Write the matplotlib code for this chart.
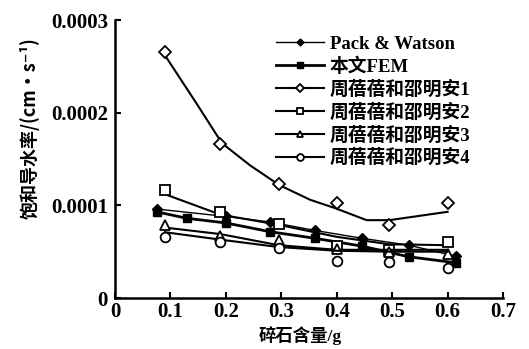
import matplotlib
matplotlib.use("Agg")
import matplotlib.pyplot as plt

# gravel content (g) and saturated hydraulic conductivity (cm/s)
pw_x = [0.075, 0.2, 0.28, 0.36, 0.445, 0.53, 0.615]
pw_y = [0.000096, 0.000088, 0.000082, 0.000073, 0.0000645, 0.000057, 0.000045]

fem_x = [0.075, 0.13, 0.2, 0.28, 0.36, 0.445, 0.53, 0.615]
fem_y = [0.000093, 0.000086, 0.000081, 0.0000715, 0.0000645, 0.000056, 0.0000445, 0.000038]

zhou_x = [0.09, 0.19, 0.295, 0.4, 0.495, 0.6]
zhou1_y = [0.000266, 0.000166, 0.000123, 0.000102, 0.000079, 0.000103]
zhou2_y = [0.000117, 0.000093, 0.00008, 0.000056, 0.000052, 0.00006]
zhou3_y = [0.000079, 0.000067, 0.000063, 0.000053, 0.00005, 0.000048]
zhou4_y = [0.000066, 0.00006, 0.0000535, 0.00004, 0.000039, 0.000032]

# trend curves drawn through the Zhou data
zhou1_fit_x = [0.09, 0.147, 0.193, 0.244, 0.296, 0.352, 0.397, 0.454, 0.495, 0.6]
zhou1_fit_y = [0.000262, 0.00021, 0.000167, 0.000143, 0.000122, 0.000106, 0.000097, 0.000084, 0.000084, 0.000093]
zhou2_fit_y = [0.000112, 0.00009, 0.000079, 0.000066, 0.000058, 0.000057]
zhou3_fit_y = [0.000076, 0.000069, 0.000057, 0.000052, 0.000052, 0.000052]
zhou4_fit_y = [0.000071, 0.000063, 0.000055, 0.000051, 0.00005, 0.00005]

labels = ["Pack & Watson", "本文FEM", "周蓓蓓和邵明安1", "周蓓蓓和邵明安2",
          "周蓓蓓和邵明安3", "周蓓蓓和邵明安4"]
x_ticks = [0, 0.1, 0.2, 0.3, 0.4, 0.5, 0.6, 0.7]
x_tick_labels = ["0", "0.1", "0.2", "0.3", "0.4", "0.5", "0.6", "0.7"]
y_ticks = [0, 0.0001, 0.0002, 0.0003]
y_tick_labels = ["0", "0.0001", "0.0002", "0.0003"]

serif_cjk = ["Liberation Serif", "Noto Sans CJK SC", "DejaVu Sans"]
plt.rcParams["font.family"] = serif_cjk
plt.rcParams["font.weight"] = "bold"

fig = plt.figure(figsize=(5.29, 3.49), dpi=100)
ax = fig.add_axes([115 / 529, 1 - 298 / 349, 388 / 529, 278 / 349])

k = "black"
ax.plot(pw_x, pw_y, color=k, lw=1.0, marker="D", ms=5, mfc=k, label=labels[0])
ax.plot(fem_x, fem_y, color=k, lw=2.0, marker="s", ms=6, mfc=k, label=labels[1])

open_series = [
    (zhou1_fit_x, zhou1_fit_y, zhou1_y, "D", 6, labels[2]),
    (zhou_x, zhou2_fit_y, zhou2_y, "s", 7, labels[3]),
    (zhou_x, zhou3_fit_y, zhou3_y, "^", 7, labels[4]),
    (zhou_x, zhou4_fit_y, zhou4_y, "o", 7, labels[5]),
]
for fit_x, fit_y, pts_y, mk, ms, lab in open_series:
    ax.plot(fit_x, fit_y, color=k, lw=1.5)
    ax.plot(zhou_x, pts_y, ls="none", marker=mk, ms=ms, mfc="white", mec=k, mew=1.3)
    # legend proxy
    ax.plot([], [], color=k, lw=1.5, marker=mk, ms=ms, mfc="white", mec=k, mew=1.3, label=lab)

ax.set_xlim(0, 0.7)
ax.set_ylim(0, 0.0003)
ax.set_xticks(x_ticks)
ax.set_xticklabels(x_tick_labels)
ax.set_yticks(y_ticks)
ax.set_yticklabels(y_tick_labels)
ax.spines["top"].set_visible(False)
ax.spines["right"].set_visible(False)
ax.spines["left"].set_linewidth(1.8)
ax.spines["bottom"].set_linewidth(1.8)
ax.tick_params(direction="in", length=4, width=1.5, labelsize=15)
ax.tick_params(axis="x", pad=3)
ax.tick_params(axis="y", pad=5)
for t in ax.get_xticklabels() + ax.get_yticklabels():
    t.set_fontweight("bold")

leg = ax.legend(loc="upper left", bbox_to_anchor=(0.385, 0.985), frameon=False,
                fontsize=13.5, handlelength=2.6, handletextpad=0.3,
                labelspacing=0.25, markerscale=0.7, borderaxespad=0.2)
for t in leg.get_texts():
    t.set_fontweight("bold")

fig.text(300 / 529, 1 - 336 / 349, "碎石含量/g", ha="center", va="center",
         fontsize=12.5, fontweight="bold")
fig.text(30 / 529, 1 - 128 / 349, "饱和导水率/(cm•s⁻¹)", rotation=90,
         ha="center", va="center", fontsize=13, fontweight="bold",
         family=["Noto Sans CJK SC", "DejaVu Sans"])

fig.savefig("out.png", dpi=100)
